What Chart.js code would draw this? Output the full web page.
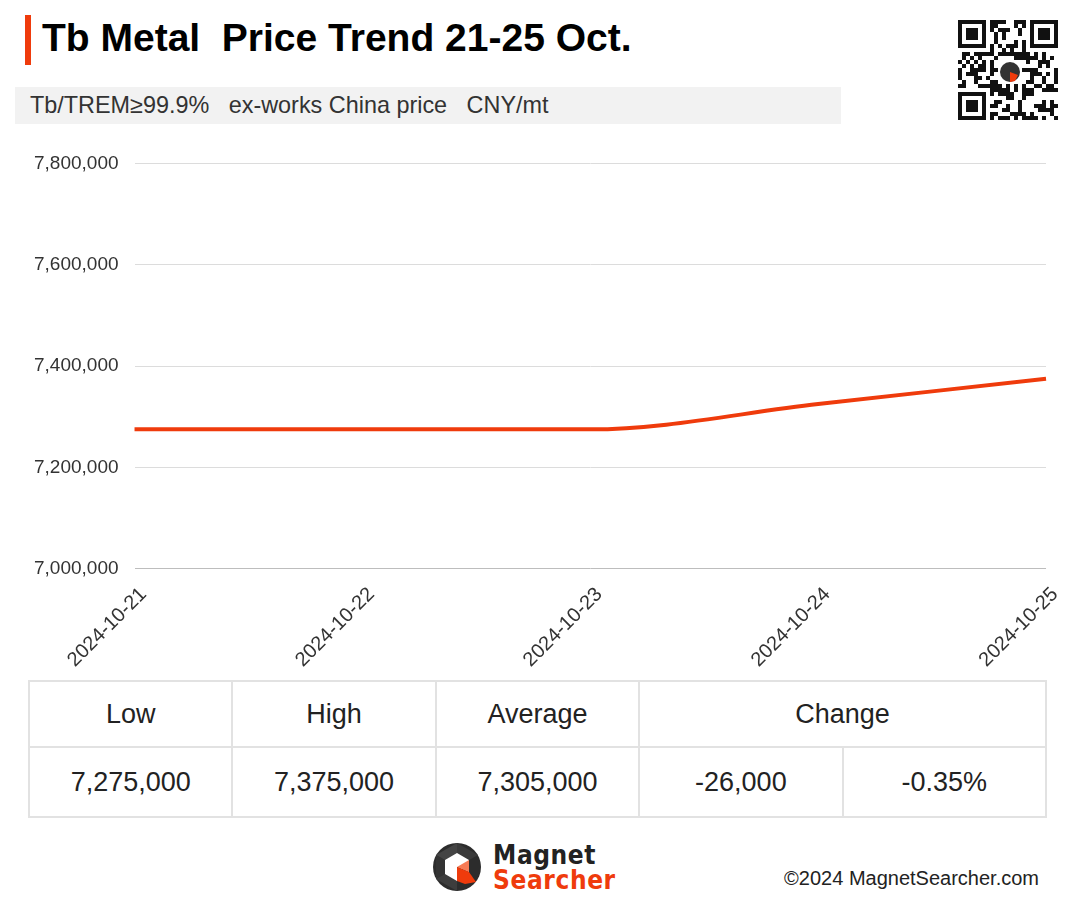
<!DOCTYPE html>
<html>
<head>
<meta charset="utf-8">
<script src="https://cdn.jsdelivr.net/npm/chart.js@4.4.1/dist/chart.umd.min.js"></script>
<style>
  html, body { margin: 0; padding: 0; background: #fff; }
  body { width: 1077px; height: 922px; position: relative; overflow: hidden;
         font-family: 'Liberation Sans', Arial, sans-serif; color: #222; }
  .title-bar { position: absolute; left: 25px; top: 15px; width: 6px; height: 50px; background: #ef3b0c; }
  .title { position: absolute; left: 42px; top: 14px; font-size: 39px; font-weight: bold; color: #000;
           white-space: pre; line-height: 48px; }
  .sub { position: absolute; left: 15px; top: 87px; width: 826px; height: 37px; background: #f2f2f2; }
  .sub span { position: absolute; left: 15px; top: 5px; font-size: 23.4px; color: #333; white-space: pre; }
  #qr { position: absolute; left: 958px; top: 20px; }
  .chart-box { position: absolute; left: 18px; top: 136px; width: 1059px; height: 550px; }
  table.stats { position: absolute; left: 28px; top: 680px; width: 1019px; border-collapse: collapse;
                table-layout: fixed; font-size: 27px; color: #222; background: #fff; }
  table.stats td { border: 2px solid #e2e2e2; text-align: center; padding: 0; }
  table.stats tr.head td { height: 64px; }
  table.stats tr.vals td { height: 68px; }
  .logo { position: absolute; left: 432px; top: 842px; }
  .brand { position: absolute; left: 493px; top: 843px; font-family: 'DejaVu Sans Condensed', 'DejaVu Sans', sans-serif;
           font-weight: bold; font-size: 26px; line-height: 25px; letter-spacing: 0.6px; }
  .brand .m { color: #222; }
  .brand .s { color: #ef3b0c; }
  .copy { position: absolute; right: 38px; top: 867px; font-size: 20px; color: #222; }
</style>
</head>
<body>
<div class="title-bar"></div>
<div class="title">Tb Metal  Price Trend 21-25 Oct.</div>
<div class="sub"><span>Tb/TREM≥99.9%   ex-works China price   CNY/mt</span></div>
<canvas id="qr" width="104" height="104"></canvas>

<div class="chart-box"><canvas id="priceChart"></canvas></div>

<table class="stats" id="stats"></table>

<svg class="logo" width="50" height="50" viewBox="0 0 50 50">
  <circle cx="25" cy="25" r="24" fill="#2c2c2c"/>
  <polygon points="25,1 46,13 25,25" fill="#3a3a3a"/>
  <polygon points="4,13 25,1 25,25" fill="#444"/>
  <polygon points="4,37 4,13 25,25" fill="#333"/>
  <polygon points="25,49 4,37 25,25" fill="#3d3d3d"/>
  <polygon points="25,11 37,18 37,30 25,25 25,39 13,32 13,18" fill="#fff"/>
  <polygon points="25,25 37,30 25,39" fill="#2c2c2c"/>
  <polygon points="25,25 37,18 37,30" fill="#f77b55"/>
  <polygon points="25,25 37,30 44,40 33,42 25,39" fill="#ef3b0c"/>
</svg>
<div class="brand"><div class="m">Magnet</div><div class="s">Searcher</div></div>
<div class="copy">©2024 MagnetSearcher.com</div>

<script>
/* ── Data ───────────────────────────────────────────── */
const dates  = ['2024-10-21', '2024-10-22', '2024-10-23', '2024-10-24', '2024-10-25'];
const prices = [7275000, 7275000, 7275000, 7325000, 7375000];

const yMin  = 7000000;
const yMax  = 7800000;
const yStep = 200000;

const tableHeads = ['Low', 'High', 'Average', 'Change'];
const changeAbs  = '-26,000';
const changePct  = '-0.35%';

const LINE_COLOR = '#ef3b0c';
const fmt = v => v.toLocaleString('en-US');

/* ── Summary table ──────────────────────────────────── */
(function buildTable() {
  const low  = Math.min(...prices);
  const high = Math.max(...prices);
  const avg  = prices.reduce((s, v) => s + v, 0) / prices.length;
  const t = document.getElementById('stats');
  t.innerHTML =
    '<tr class="head">' +
      tableHeads.map((h, i) => `<td${i === 3 ? ' colspan="2"' : ''}>${h}</td>`).join('') +
    '</tr>' +
    '<tr class="vals">' +
      [fmt(low), fmt(high), fmt(avg), changeAbs, changePct].map(v => `<td>${v}</td>`).join('') +
    '</tr>';
})();

/* ── QR-style badge (decorative) ────────────────────── */
(function drawQr() {
  const c = document.getElementById('qr').getContext('2d');
  const n = 25, s = 4;
  c.fillStyle = '#fff'; c.fillRect(0, 0, 104, 104);
  c.fillStyle = '#111';
  const finder = (x, y) => {
    c.fillRect(x * s, y * s, 7 * s, 7 * s);
    c.fillStyle = '#fff'; c.fillRect((x + 1) * s, (y + 1) * s, 5 * s, 5 * s);
    c.fillStyle = '#111'; c.fillRect((x + 2) * s, (y + 2) * s, 3 * s, 3 * s);
  };
  const inFinder = (i, j) => (i < 8 && j < 8) || (i > n - 9 && j < 8) || (i < 8 && j > n - 9);
  let seed = 7;
  for (let j = 0; j < n; j++) {
    for (let i = 0; i < n; i++) {
      seed = (seed * 1103515245 + 12345) & 0x7fffffff;
      if (inFinder(i, j)) continue;
      if ((seed >> 16) % 2) c.fillRect(i * s, j * s, s, s);
    }
  }
  finder(0, 0); finder(n - 7, 0); finder(0, n - 7);
  // centre mark
  c.fillStyle = '#fff'; c.fillRect(40, 40, 24, 24);
  c.fillStyle = '#333'; c.beginPath(); c.arc(52, 52, 10, 0, Math.PI * 2); c.fill();
  c.fillStyle = LINE_COLOR; c.beginPath();
  c.moveTo(52, 52); c.lineTo(60, 55); c.lineTo(57, 61); c.lineTo(52, 62); c.closePath(); c.fill();
})();

/* ── Line chart ─────────────────────────────────────── */
new Chart(document.getElementById('priceChart'), {
  type: 'line',
  data: {
    labels: dates,
    datasets: [{
      data: prices,
      borderColor: LINE_COLOR,
      backgroundColor: LINE_COLOR,
      borderWidth: 4,
      pointRadius: 0,
      pointHoverRadius: 0,
      cubicInterpolationMode: 'monotone',
      fill: false,
    }],
  },
  options: {
    responsive: true,
    maintainAspectRatio: false,
    animation: false,
    layout: { padding: { top: 4, right: 0, bottom: 0, left: 0 } },
    plugins: { legend: { display: false }, tooltip: { enabled: false } },
    scales: {
      x: {
        offset: false,
        grid: { display: false, drawTicks: false },
        border: { display: false },
        ticks: {
          color: '#333', padding: 14, labelOffset: 9, maxRotation: 45, minRotation: 45, autoSkip: false,
          font: { family: "'Liberation Sans', Arial, sans-serif", size: 20 },
        },
      },
      y: {
        min: yMin, max: yMax,
        grid: {
          drawTicks: false,
          color: ctx => ctx.tick && ctx.tick.value === yMin ? '#bdbdbd' : '#dcdcdc',
          lineWidth: 1,
        },
        border: { display: false },
        ticks: {
          stepSize: yStep, padding: 16, color: '#333',
          font: { family: "'Liberation Sans', Arial, sans-serif", size: 19 },
          callback: v => fmt(v),
        },
      },
    },
  },
});
</script>
</body>
</html>
